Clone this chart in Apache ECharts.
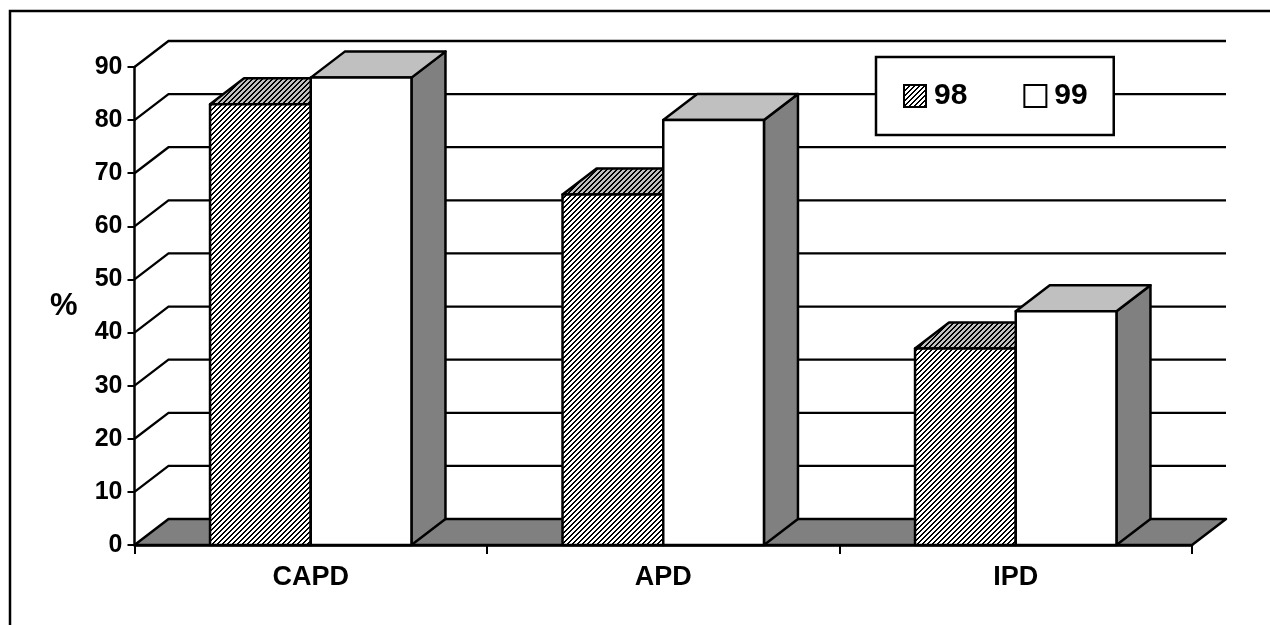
<!DOCTYPE html>
<html><head><meta charset="utf-8">
<style>html,body{margin:0;padding:0;background:#fff}#c{width:1270px;height:625px}</style>
<script src="https://cdn.jsdelivr.net/npm/echarts@6/dist/echarts.min.js"></script>
</head><body><div id="c"></div>
<script>
var categories = ['CAPD', 'APD', 'IPD'];
var series98 = [83, 66, 37];
var series99 = [88, 80, 44];
var gridValues = [0, 10, 20, 30, 40, 50, 60, 70, 80, 90];
var legendNames = ['98', '99'];

var DX = 34, DY = -26;
var FONT = '"Liberation Sans", Arial, sans-serif';

function hatch(bg) {
  var p = 5, on = 2;
  var c = document.createElement('canvas');
  c.width = p; c.height = p;
  var g = c.getContext('2d');
  g.fillStyle = bg; g.fillRect(0, 0, p, p);
  g.fillStyle = '#000';
  for (var y = 0; y < p; y++) {
    for (var x = 0; x < p; x++) {
      if ((x + y) % p < on) g.fillRect(x, y, 1, 1);
    }
  }
  return { image: c, repeat: 'repeat' };
}
var hatchFront = hatch('#ffffff');
var hatchTop = hatch('#c0c0c0');

var LINE = { stroke: '#000', lineWidth: 2.5, lineJoin: 'round' };
function st(fill) { return Object.assign({ fill: fill }, LINE); }
function poly(points, fill) { return { type: 'polygon', shape: { points: points }, style: st(fill) }; }

function barRender(offsetIndex, frontFill, topFill, sideFill) {
  return function (params, api) {
    var cat = api.value(0), val = api.value(1);
    var top = api.coord([cat, val]), base = api.coord([cat, 0]);
    var w = api.size([1, 0])[0] / 3.5;
    var x0 = top[0] + (offsetIndex - 1) * w, x1 = x0 + w;
    var y0 = top[1], y1 = base[1];
    return { type: 'group', children: [
      poly([[x1, y1], [x1 + DX, y1 + DY], [x1 + DX, y0 + DY], [x1, y0]], sideFill),
      poly([[x0, y0], [x0 + DX, y0 + DY], [x1 + DX, y0 + DY], [x1, y0]], topFill),
      poly([[x0, y0], [x1, y0], [x1, y1], [x0, y1]], frontFill)
    ]};
  };
}

var chart = echarts.init(document.getElementById('c'), null, { renderer: 'canvas' });
chart.setOption({
  animation: false,
  backgroundColor: '#fff',
  graphic: [{ type: 'polyline', z: 0, shape: { points: [[10, 625], [10, 11], [1270, 11]] },
    style: { stroke: '#000', lineWidth: 2.5, fill: null } }],
  grid: { left: 134.5, right: 78, top: 67, bottom: 80 },
  legend: {
    left: 876, top: 57, orient: 'horizontal', data: legendNames,
    backgroundColor: '#fff', borderColor: '#000', borderWidth: 2.5, borderRadius: 0,
    padding: [24, 26, 24, 27], itemWidth: 22, itemHeight: 22, itemGap: 56,
    icon: 'rect', selectedMode: false,
    textStyle: { fontFamily: FONT, fontWeight: 'bold', fontSize: 30, color: '#000', padding: [0, 0, 0, 3] }
  },
  xAxis: {
    type: 'category', data: categories,
    axisLine: { lineStyle: { color: '#000', width: 2.5 } },
    axisTick: { show: true, length: 9, lineStyle: { color: '#000', width: 2 } },
    axisLabel: { fontFamily: FONT, fontWeight: 'bold', fontSize: 27, color: '#000', margin: 19 },
    splitLine: { show: false }
  },
  yAxis: {
    type: 'value', min: 0, max: 90, interval: 10,
    name: '%', nameLocation: 'middle', nameRotate: 0, nameGap: 57,
    nameTextStyle: { fontFamily: FONT, fontWeight: 'bold', fontSize: 31, color: '#000', padding: [3, 0, 0, 0] },
    axisLine: { show: true, lineStyle: { color: '#000', width: 2.5 } },
    axisTick: { show: true, length: 7, lineStyle: { color: '#000', width: 2 } },
    axisLabel: { fontFamily: FONT, fontWeight: 'bold', fontSize: 25, color: '#000', margin: 12, padding: [3, 0, 0, 0] },
    splitLine: { show: false }
  },
  series: [
    { type: 'custom', name: 'wall', z: 1, silent: true, data: gridValues.map(function (v) { return [v]; }),
      encode: { y: 0 }, clip: false,
      renderItem: function (params, api) {
        var v = api.value(0), a = api.coord([0, v]), cs = params.coordSys;
        var xL = cs.x, xR = cs.x + cs.width, y = a[1];
        if (v === 0) {
          return poly([[xL, y], [xL + DX, y + DY], [xR + DX, y + DY], [xR, y]], '#808080');
        }
        return { type: 'polyline', shape: { points: [[xL, y], [xL + DX, y + DY], [xR + DX, y + DY]] },
          style: { stroke: '#000', lineWidth: 2.3, fill: null } };
      } },
    { type: 'custom', name: legendNames[0], z: 2, clip: false,
      itemStyle: { color: hatchFront, borderColor: '#000', borderWidth: 2 },
      data: series98.map(function (v, i) { return [i, v]; }), encode: { x: 0, y: 1 },
      renderItem: barRender(0, hatchFront, hatchTop, '#808080') },
    { type: 'custom', name: legendNames[1], z: 3, clip: false,
      itemStyle: { color: '#fff', borderColor: '#000', borderWidth: 2 },
      data: series99.map(function (v, i) { return [i, v]; }), encode: { x: 0, y: 1 },
      renderItem: barRender(1, '#ffffff', '#c0c0c0', '#808080') }
  ]
});
</script></body></html>
